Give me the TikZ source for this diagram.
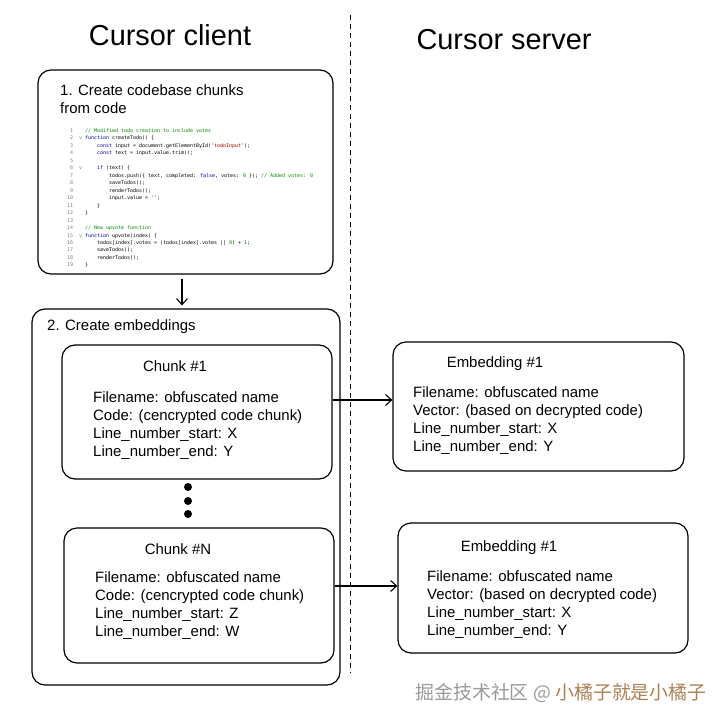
\documentclass[tikz,border=0pt]{standalone}
\usepackage{fontspec,array}
\setmainfont{Liberation Sans}
\newfontfamily\cjkfont{Noto Sans CJK SC}
\newfontfamily\codefont{DejaVu Sans Mono}
\usetikzlibrary{arrows.meta,positioning}
\newcommand\ckw[1]{\textcolor{blue!70!black}{#1}}
\newcommand\ccm[1]{\textcolor{green!55!black}{#1}}
\newcommand\cst[1]{\textcolor{red!65!black}{#1}}
\newcommand\cnum[1]{\textcolor{green!50!black}{#1}}
\newcommand\cfold{\llap{\textcolor{gray}{v}\hspace{3bp}}}
\newcommand\ind{\hspace*{12bp}}
\tikzset{box/.style={draw,line width=1.2bp,rounded corners=13bp},
 hd/.style={font=\fontsize{29}{34}\selectfont},
 lbl/.style={inner sep=0,font=\fontsize{15}{18.3}\selectfont},
 fld/.style={lbl,align=left,anchor=north west},
 dot/.style={circle,fill,inner sep=0,minimum size=8bp},
 flow/.style={-{Straight Barb[length=6bp,width=11bp]},line width=1.1bp},
 sep/.style={dash pattern=on 5bp off 4bp,line width=1bp},
 code/.style={inner sep=0,anchor=north west,font=\codefont\fontsize{5}{7.5}\selectfont},
 wm/.style={inner sep=0,text=gray!80,font=\cjkfont\fontsize{19}{22}\selectfont}}
\begin{document}
\begin{tikzpicture}[x=1bp,y=-1bp]
\useasboundingbox (0,0) rectangle (720,722);
\node[hd](tc) at (170,35){Cursor client};\node[hd](ts) at (504,40){Cursor server};
\coordinate (s0) at (350,15);\coordinate (s1) at (350,673);\draw[sep](s0)--(s1);
\node[box,minimum width=295bp,minimum height=204bp](b1) at (185.5,172){};
\node[fld](t1) at (60,84){1. Create codebase chunks\\from code};
\node[code](src) at (67,127){\begin{tabular}{@{}>{\color{gray}}r@{\hspace{12bp}}l@{}}
1&\ccm{// Modified todo creation to include votes}\\
2&\cfold\ckw{function} createTodo() \{\\
3&\ind\ckw{const} input = document.getElementById(\cst{'todoInput'});\\
4&\ind\ckw{const} text = input.value.trim();\\
5&\\
6&\cfold\ind\ckw{if} (text) \{\\
7&\ind\ind todos.push(\{ text, completed: \ckw{false}, votes: \cnum{0} \}); \ccm{// Added votes: 0}\\
8&\ind\ind saveTodos();\\
9&\ind\ind renderTodos();\\
10&\ind\ind input.value = \cst{''};\\
11&\ind\}\\
12&\}\\
13&\\
14&\ccm{// New upvote function}\\
15&\cfold\ckw{function} upvote(index) \{\\
16&\ind todos[index].votes = (todos[index].votes || \cnum{0}) + \cnum{1};\\
17&\ind saveTodos();\\
18&\ind renderTodos();\\
19&\}
\end{tabular}};
\node[box,minimum width=308bp,minimum height=376bp](b2) at (186,497){};
\node[lbl,anchor=base west](t2) at (47,330){2. Create embeddings};
\draw[flow,shorten <=4bp,shorten >=3bp]([xshift=-3.5bp]b1.south)--([xshift=-3.5bp]b1.south|-b2.north);
\node[box,minimum width=270bp,minimum height=134bp](c1) at (197,412){};
\node[lbl](c1h) at (175,366){Chunk \#1};
\node[fld](c1t) at (93,391){Filename: obfuscated name\\Code: (cencrypted code chunk)\\Line\_number\_start: X\\Line\_number\_end: Y};
\node[dot](d1) at (188,487){};\node[dot](d2) at (188,501){};\node[dot](d3) at (188,514){};
\node[box,minimum width=270bp,minimum height=135bp](cn) at (199,595.5){};
\node[lbl](cnh) at (178,549){Chunk \#N};
\node[fld](cnt) at (95,571){Filename: obfuscated name\\Code: (cencrypted code chunk)\\Line\_number\_start: Z\\Line\_number\_end: W};
\node[box,minimum width=291bp,minimum height=129bp](e1) at (538.5,406.5){};
\node[lbl](e1h) at (495,364){Embedding \#1};
\node[fld](e1t) at (413,386){Filename: obfuscated name\\Vector: (based on decrypted code)\\Line\_number\_start: X\\Line\_number\_end: Y};
\node[box,minimum width=290bp,minimum height=130bp](e2) at (543,588){};
\node[lbl](e2h) at (509,548){Embedding \#1};
\node[fld](e2t) at (427,570){Filename: obfuscated name\\Vector: (based on decrypted code)\\Line\_number\_start: X\\Line\_number\_end: Y};
\draw[flow]([yshift=12bp]c1.east)--([yshift=12bp]c1.east-|e1.west);
\draw[flow]([yshift=9.5bp]cn.east)--([yshift=9.5bp]cn.east-|e2.west);
\node[wm](wm) at (561,693){掘金技术社区 @ \textcolor{orange!35!gray}{小橘子就是小橘子}};
\end{tikzpicture}
\end{document}
